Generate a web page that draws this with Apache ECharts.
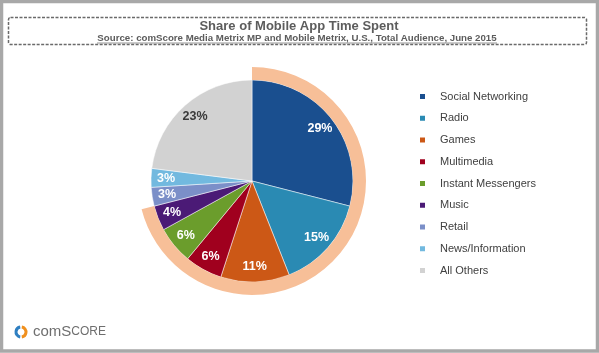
<!DOCTYPE html>
<html>
<head>
<meta charset="utf-8">
<script src="https://cdn.jsdelivr.net/npm/echarts@6/dist/echarts.min.js"></script>
<style>
html,body{margin:0;padding:0;background:#fff;}
#main{width:599px;height:353px;}
</style>
</head>
<body>
<div id="main"></div>
<script>
var categories = ['Social Networking','Radio','Games','Multimedia','Instant Messengers','Music','Retail','News/Information','All Others'];
var shares = [29, 15, 11, 6, 6, 4, 3, 3, 23];
var highlighted = ['Social Networking','Radio','Games','Multimedia','Instant Messengers','Music'];
var titleText = 'Share of Mobile App Time Spent';
var sourceText = 'Source: comScore Media Metrix MP and Mobile Metrix, U.S., Total Audience, June 2015';

var palette = ['#1a4f8f','#2a8ab3','#cc5816','#a0001e','#6b9d2c','#4b1a76','#7b8fc8','#72b9df','#d2d2d2'];

var chart = echarts.init(document.getElementById('main'));

var mainData = categories.map(function(c, i){
  return {name: c, value: shares[i], itemStyle: {color: palette[i]}};
});
var labelData = categories.map(function(c, i){
  return {name: c, value: shares[i], label: {color: c === 'All Others' ? '#3a3a3a' : '#ffffff'}};
});
var hiSum = 0, total = 0;
categories.forEach(function(c, i){ total += shares[i]; if (highlighted.indexOf(c) >= 0) hiSum += shares[i]; });

var center = [252, 181];

var option = {
  animation: false,
  color: palette,
  legend: {
    orient: 'vertical',
    left: 413,
    top: 85,
    icon: 'rect',
    itemWidth: 7,
    itemHeight: 7,
    itemGap: 8.75,
    data: categories,
    textStyle: {fontFamily: 'Liberation Sans, Arial, sans-serif', fontSize: 11, color: '#404040', lineHeight: 13, padding: [0,0,0,9]}
  },
  graphic: [
    {type: 'rect', shape: {x: 1.5, y: 1.5, width: 596, height: 349.5}, style: {fill: 'none', stroke: '#a8a8a8', lineWidth: 3.5}, silent: true},
    {type: 'rect', shape: {x: 8.5, y: 17.5, width: 578, height: 27, r: 2}, style: {fill: 'none', stroke: '#6a6a6a', lineWidth: 1.5, lineDash: [3, 1.5]}, silent: true},
    {type: 'text', x: 299, y: 26.5, style: {text: titleText, fill: '#5c5c5c', font: 'bold 13px "Liberation Sans", Arial, sans-serif', align: 'center', verticalAlign: 'middle'}, silent: true},
    {type: 'text', x: 297, y: 38.5, style: {text: sourceText, fill: '#5c5c5c', font: 'bold 9.7px "Liberation Sans", Arial, sans-serif', align: 'center', verticalAlign: 'middle'}, silent: true},
    {type: 'line', shape: {x1: 97, y1: 43, x2: 497, y2: 43}, style: {stroke: '#7a7a7a', lineWidth: 0.8}, silent: true},
    {type: 'arc', shape: {cx: 21, cy: 332, r: 5, startAngle: Math.PI * 0.55, endAngle: Math.PI * 1.45}, style: {fill: 'none', stroke: '#2f7fc1', lineWidth: 3}, silent: true},
    {type: 'arc', shape: {cx: 21, cy: 332, r: 5, startAngle: -Math.PI * 0.45, endAngle: Math.PI * 0.45}, style: {fill: 'none', stroke: '#f0901e', lineWidth: 3}, silent: true},
    {type: 'text', x: 33, y: 332, style: {text: '{a|com}{b|S}{c|CORE}', verticalAlign: 'middle', rich: {
      a: {font: '15px "Liberation Sans", Arial, sans-serif', fill: '#6e6e6e'},
      b: {font: '15px "Liberation Sans", Arial, sans-serif', fill: '#6e6e6e'},
      c: {font: '12px "Liberation Sans", Arial, sans-serif', fill: '#6e6e6e'}
    }}, silent: true}
  ],
  series: [
    {
      type: 'pie', name: 'main', center: center, radius: [0, 101], startAngle: 90, clockwise: true,
      data: mainData, label: {show: false}, labelLine: {show: false},
      itemStyle: {borderColor: '#ffffff', borderWidth: 0.5},
      emphasis: {disabled: true}
    },
    {
      type: 'pie', name: 'ring', center: center, radius: [101, 114], startAngle: 90, clockwise: true, silent: true,
      data: [{name: 'highlight', value: hiSum, itemStyle: {color: '#f7bf98'}}, {name: 'rest', value: total - hiSum, itemStyle: {color: 'rgba(0,0,0,0)'}}],
      label: {show: false}, labelLine: {show: false}, emphasis: {disabled: true}
    },
    {
      type: 'pie', name: 'labels', center: center, radius: [65, 101], startAngle: 90, clockwise: true, silent: true,
      data: labelData,
      itemStyle: {color: 'rgba(0,0,0,0)'},
      label: {show: true, position: 'inside', formatter: '{c}%', fontFamily: 'Liberation Sans, Arial, sans-serif', fontWeight: 'bold', fontSize: 12.5},
      labelLine: {show: false}, emphasis: {disabled: true}
    }
  ]
};
chart.setOption(option);
</script>
</body>
</html>
